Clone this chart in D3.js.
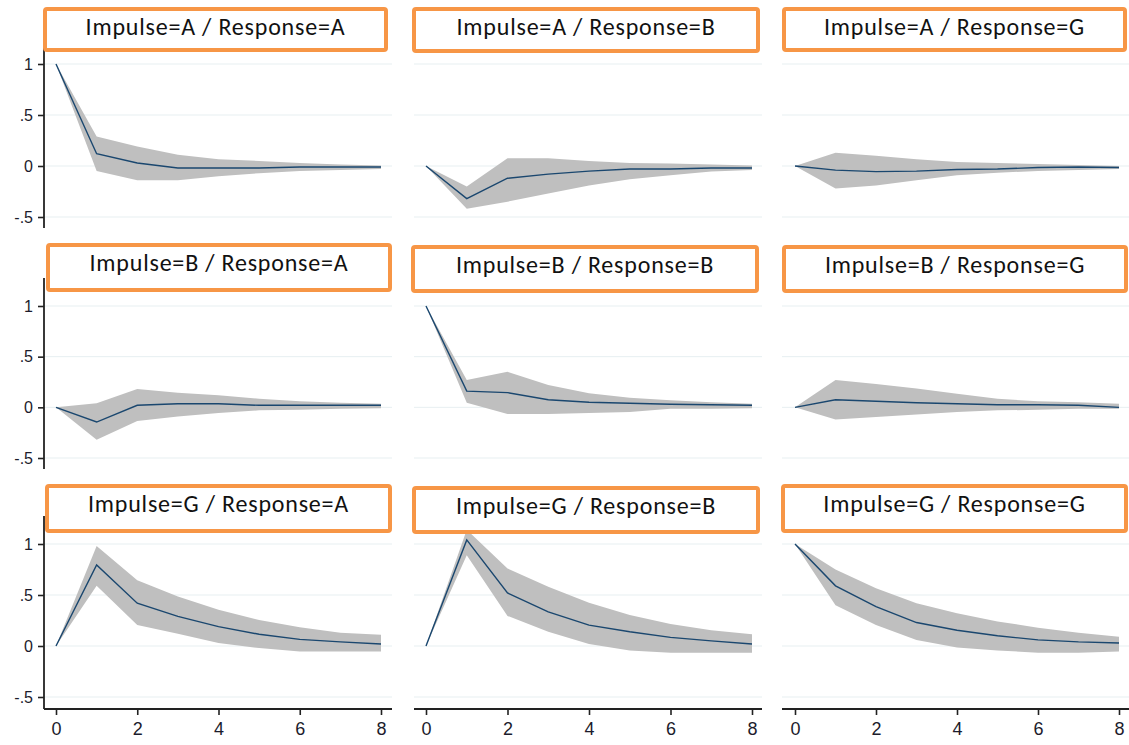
<!DOCTYPE html>
<html>
<head>
<meta charset="utf-8">
<script src="https://cdn.jsdelivr.net/npm/d3@7"></script>
<style>
  html, body { margin: 0; padding: 0; background: #fff; }
  svg { display: block; }
  .tick-label { font-family: "Liberation Sans", Arial, sans-serif; fill: #1c1c2c; }
  .title { font-family: Carlito, Calibri, Lato, sans-serif; fill: #111; }
</style>
</head>
<body>
<div id="app"></div>
<script>
const steps = [0, 1, 2, 3, 4, 5, 6, 7, 8];
const variables = ["A", "B", "G"];
const yTicks = [-0.5, 0, 0.5, 1];
const yTickLabels = ["-.5", "0", ".5", "1"];
const xTicks = [0, 2, 4, 6, 8];

// impulse A
const irfAA = [1, 0.12, 0.03, -0.02, -0.02, -0.02, -0.01, -0.01, -0.01];
const loAA = [1, -0.05, -0.14, -0.14, -0.1, -0.07, -0.05, -0.04, -0.03];
const hiAA = [1, 0.29, 0.19, 0.11, 0.065, 0.05, 0.03, 0.015, 0.005];

const irfAB = [0, -0.32, -0.12, -0.08, -0.05, -0.03, -0.03, -0.02, -0.02];
const loAB = [0, -0.42, -0.35, -0.27, -0.19, -0.13, -0.09, -0.055, -0.04];
const hiAB = [0, -0.2, 0.075, 0.075, 0.05, 0.03, 0.025, 0.015, 0.005];

const irfAG = [0, -0.04, -0.055, -0.05, -0.035, -0.03, -0.015, -0.01, -0.015];
const loAG = [0, -0.22, -0.19, -0.14, -0.09, -0.065, -0.05, -0.04, -0.03];
const hiAG = [0, 0.13, 0.1, 0.065, 0.04, 0.03, 0.02, 0.01, 0];

// impulse B
const irfBA = [0, -0.145, 0.02, 0.035, 0.035, 0.02, 0.02, 0.02, 0.02];
const loBA = [0, -0.32, -0.135, -0.09, -0.055, -0.03, -0.025, -0.015, -0.01];
const hiBA = [0, 0.04, 0.18, 0.145, 0.12, 0.085, 0.06, 0.045, 0.035];

const irfBB = [1, 0.16, 0.145, 0.075, 0.05, 0.04, 0.03, 0.025, 0.02];
const loBB = [1, 0.045, -0.065, -0.065, -0.055, -0.045, -0.015, -0.015, -0.01];
const hiBB = [1, 0.27, 0.35, 0.22, 0.14, 0.095, 0.07, 0.05, 0.035];

const irfBG = [0, 0.075, 0.06, 0.045, 0.035, 0.025, 0.025, 0.02, 0];
const loBG = [0, -0.12, -0.095, -0.07, -0.045, -0.03, -0.025, -0.015, -0.015];
const hiBG = [0, 0.27, 0.23, 0.185, 0.135, 0.085, 0.06, 0.05, 0.035];

// impulse G
const irfGA = [0, 0.795, 0.42, 0.29, 0.19, 0.115, 0.065, 0.04, 0.02];
const loGA = [0, 0.59, 0.205, 0.12, 0.03, -0.02, -0.055, -0.055, -0.055];
const hiGA = [0, 0.98, 0.645, 0.485, 0.355, 0.255, 0.185, 0.13, 0.11];

const irfGB = [0, 1.04, 0.52, 0.335, 0.205, 0.14, 0.085, 0.05, 0.02];
const loGB = [0, 0.89, 0.295, 0.14, 0.02, -0.045, -0.065, -0.065, -0.065];
const hiGB = [0, 1.14, 0.76, 0.58, 0.425, 0.305, 0.215, 0.155, 0.115];

const irfGG = [1, 0.59, 0.385, 0.23, 0.155, 0.1, 0.06, 0.04, 0.03];
const loGG = [1, 0.4, 0.205, 0.06, -0.015, -0.045, -0.065, -0.065, -0.055];
const hiGG = [1, 0.75, 0.565, 0.42, 0.32, 0.24, 0.18, 0.13, 0.09];

const series = [
  [[irfAA, loAA, hiAA], [irfAB, loAB, hiAB], [irfAG, loAG, hiAG]],
  [[irfBA, loBA, hiBA], [irfBB, loBB, hiBB], [irfBG, loBG, hiBG]],
  [[irfGA, loGA, hiGA], [irfGB, loGB, hiGB], [irfGG, loGG, hiGG]]
];

// layout (pixels)
const width = 1129;
const height = 745;
const cols = [
  { left: 44, right: 392, x0: 56, x1: 381 },
  { left: 414, right: 762, x0: 426, x1: 752 },
  { left: 782, right: 1130, x0: 795, x1: 1119 }
];
const rows = [
  { top: 36, bottom: 228, yTop: 64, yBot: 217 },
  { top: 278, bottom: 469, yTop: 306, yBot: 458 },
  { top: 516, bottom: 709, yTop: 544, yBot: 697 }
];
// title boxes, outer edges [x0, y0, x1, y1]
const boxes = [
  [[43, 7, 388, 52], [412, 7, 760, 53], [782, 7, 1127, 52]],
  [[46, 243, 392, 292], [411, 245, 759, 293], [782, 245, 1128, 293]],
  [[45, 484, 392, 533], [412, 486, 760, 534], [781, 484, 1128, 533]]
];

const svg = d3
  .select("#app")
  .append("svg")
  .attr("width", width)
  .attr("height", height);

rows.forEach((row, r) => {
  cols.forEach((col, c) => {
    const [irf, lo, hi] = series[r][c];
    const x = d3.scaleLinear().domain([0, 8]).range([col.x0, col.x1]);
    const y = d3.scaleLinear().domain([-0.5, 1]).range([row.yBot, row.yTop]);
    const g = svg.append("g");

    // grid lines
    g.selectAll(".grid")
      .data(yTicks)
      .enter()
      .append("line")
      .attr("x1", col.left)
      .attr("x2", col.right)
      .attr("y1", (d) => y(d))
      .attr("y2", (d) => y(d))
      .attr("stroke", "#e7eff1")
      .attr("stroke-width", 1);

    // confidence band
    const area = d3
      .area()
      .x((d) => x(d))
      .y0((d, i) => y(lo[i]))
      .y1((d, i) => y(hi[i]));
    g.append("path")
      .datum(steps)
      .attr("d", area)
      .attr("fill", "#bfbfbf");

    // irf line
    const line = d3
      .line()
      .x((d) => x(d))
      .y((d, i) => y(irf[i]));
    g.append("path")
      .datum(steps)
      .attr("d", line)
      .attr("fill", "none")
      .attr("stroke", "#1a476f")
      .attr("stroke-width", 1.4);

    // y axis on first column
    if (c === 0) {
      const yAxis = d3
        .axisLeft(y)
        .tickValues(yTicks)
        .tickSize(6)
        .tickPadding(5)
        .tickFormat((d, i) => yTickLabels[i]);
      const ya = g
        .append("g")
        .attr("transform", `translate(${col.left},0)`)
        .call(yAxis);
      ya.select(".domain")
        .attr("d", `M0,${row.top}V${row.bottom}`)
        .attr("stroke", "#222")
        .attr("stroke-width", 1.8);
      ya.selectAll(".tick line").attr("stroke", "#222").attr("stroke-width", 1.6);
      ya.selectAll(".tick text")
        .attr("class", "tick-label")
        .style("font-size", "16px")
        .attr("fill", null);
    }

    // x axis on last row
    if (r === rows.length - 1) {
      const xAxis = d3.axisBottom(x).tickValues(xTicks).tickSize(6).tickPadding(7);
      const xa = g
        .append("g")
        .attr("transform", `translate(0,${row.bottom})`)
        .call(xAxis);
      xa.select(".domain")
        .attr("d", `M${col.left},0H${col.right}`)
        .attr("stroke", "#222")
        .attr("stroke-width", 1.8);
      xa.selectAll(".tick line").attr("stroke", "#222").attr("stroke-width", 1.6);
      xa.selectAll(".tick text")
        .attr("class", "tick-label")
        .style("font-size", "18px")
        .attr("fill", null);
    }

    // title box
    const [bx0, by0, bx1, by1] = boxes[r][c];
    g.append("rect")
      .attr("x", bx0 + 2)
      .attr("y", by0 + 2)
      .attr("width", bx1 - bx0 - 4)
      .attr("height", by1 - by0 - 4)
      .attr("rx", 2)
      .attr("fill", "#fff")
      .attr("stroke", "#f79646")
      .attr("stroke-width", 4);
    g.append("text")
      .attr("class", "title")
      .attr("x", (bx0 + bx1) / 2)
      .attr("y", by0 + 28)
      .attr("text-anchor", "middle")
      .style("font-size", "24px")
      .style("letter-spacing", "0.8px")
      .text(`Impulse=${variables[r]} / Response=${variables[c]}`);
  });
});
</script>
</body>
</html>
